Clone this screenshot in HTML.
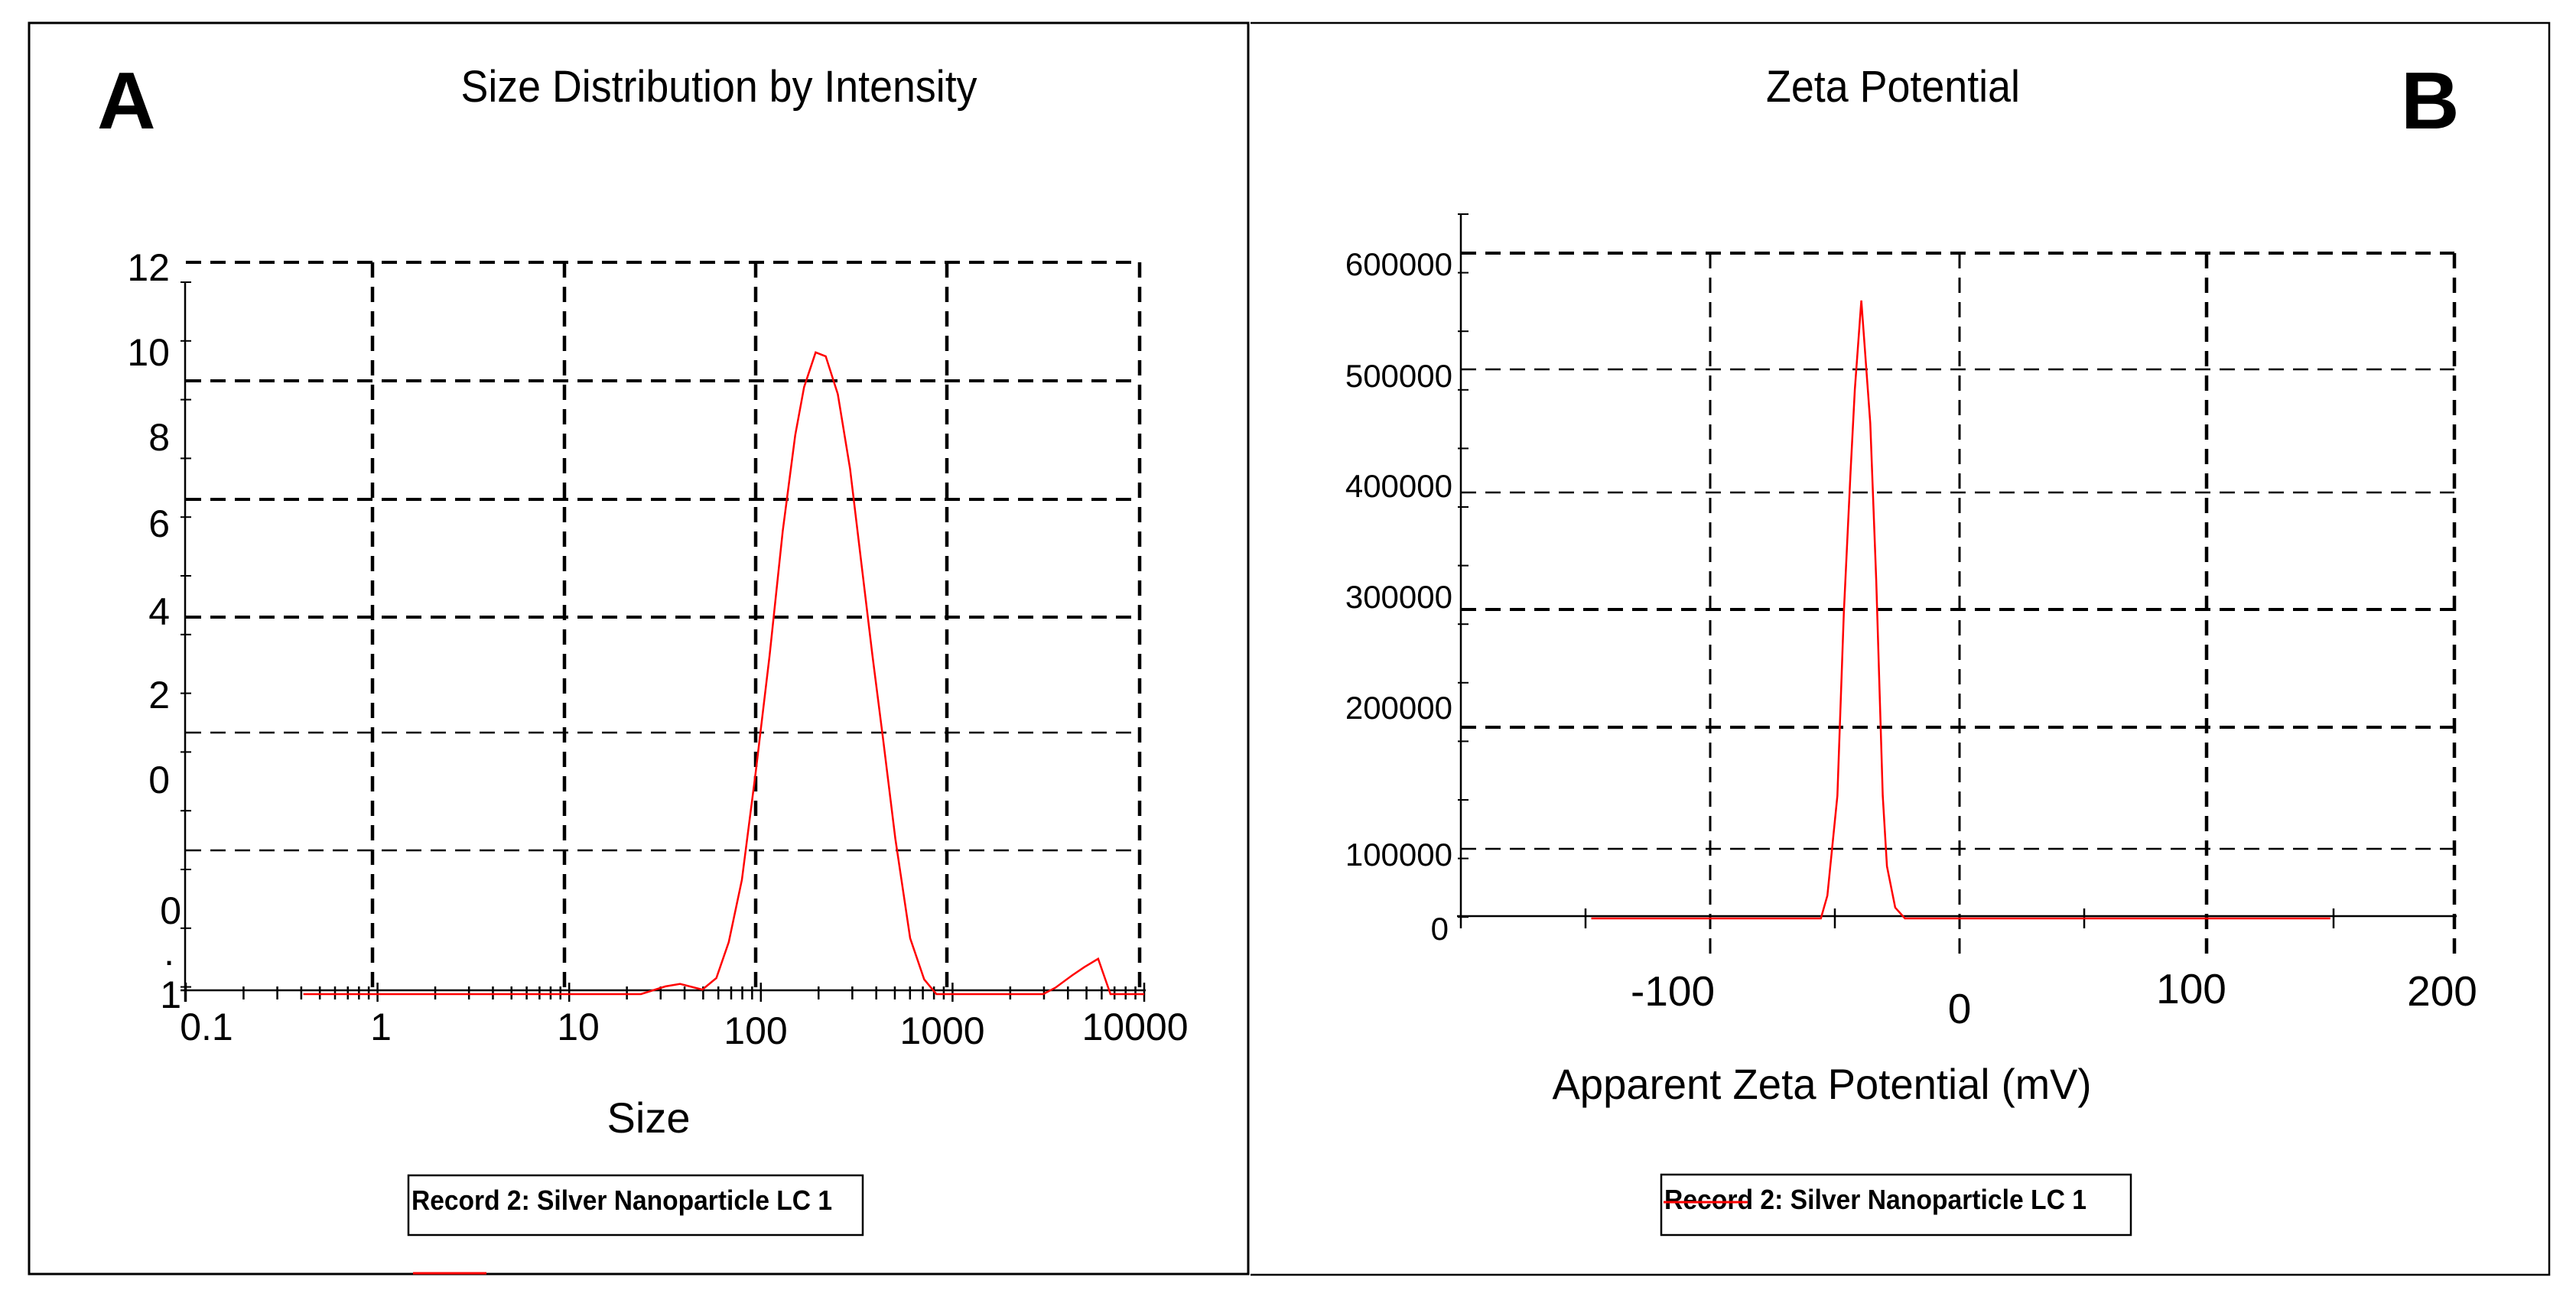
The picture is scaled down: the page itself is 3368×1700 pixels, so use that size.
<!DOCTYPE html>
<html><head><meta charset="utf-8"><style>
html,body{margin:0;padding:0;background:#fff}
svg{display:block}
text{font-family:"Liberation Sans",Arial,sans-serif;fill:#000}
</style></head><body>
<svg id="fig" width="3368" height="1700" viewBox="0 0 3368 1700" xmlns="http://www.w3.org/2000/svg">
<g id="pa">
  <rect x="38" y="30" width="1594" height="1636" fill="none" stroke="#000" stroke-width="3"/>
  <text x="127" y="168" font-size="106" font-weight="bold">A</text>
  <text x="940" y="133" font-size="58" text-anchor="middle" textLength="675" lengthAdjust="spacingAndGlyphs">Size Distribution by Intensity</text>
  <text x="848" y="1481" font-size="56" text-anchor="middle">Size</text>
  <rect x="534" y="1537" width="594" height="78" fill="none" stroke="#000" stroke-width="2.5"/>
  <text x="538" y="1582" font-size="36" font-weight="bold" textLength="550" lengthAdjust="spacingAndGlyphs">Record 2: Silver Nanoparticle LC 1</text>
  <line x1="540" y1="1665" x2="636" y2="1665" stroke="red" stroke-width="3"/>
</g>
<g id="pb">
  <polyline points="1635,30 3333,30 3333,1667 1635,1667" fill="none" stroke="#000" stroke-width="2.5"/>
  <text x="3139" y="168" font-size="106" font-weight="bold">B</text>
  <text x="2475" y="133" font-size="58" text-anchor="middle" textLength="332" lengthAdjust="spacingAndGlyphs">Zeta Potential</text>
  <text x="2382" y="1437" font-size="56" text-anchor="middle" textLength="705" lengthAdjust="spacingAndGlyphs">Apparent Zeta Potential (mV)</text>
  <rect x="2172" y="1536" width="614" height="79" fill="none" stroke="#000" stroke-width="2.5"/>
  <text x="2176" y="1581" font-size="36" font-weight="bold" textLength="552" lengthAdjust="spacingAndGlyphs">Record 2: Silver Nanoparticle LC 1</text>
  <line x1="2175" y1="1572" x2="2285" y2="1572" stroke="red" stroke-width="3"/>
</g>
</svg>
<script>
// Chart A data (size in nm, intensity %)
const sizeX = [0.41,23.7,31.8,37.9,49.5,58.6,68,79.6,94,111,130,151,168,193,218,252,292,339,382,434,503,601,711,824,2970,3440,4200,4870,5750,6670,10000];
const sizeY = [0,0,0.12,0.16,0.07,0.25,0.81,1.78,3.46,5.27,7.21,8.70,9.45,9.99,9.93,9.34,8.18,6.56,5.27,3.97,2.42,0.87,0.23,0,0,0.1,0.29,0.42,0.55,0,0];
const sizeXTicks = ["0.1","1","10","100","1000","10000"];
const sizeYTickLabels = ["12","10","8","6","4","2","0","0",".","1"];
// Chart B data (mV, counts)
const zetaX = [-147.7,-55.6,-53,-49,-46.4,-43.7,-42,-39.4,-35.8,-33.4,-30.8,-29.1,-25.8,-21.9,148.7];
const zetaY = [0,0,21000,113000,281000,411000,487000,569000,456000,311000,113000,48000,10000,0,0];
const zetaXTicks = ["-100","0","100","200"];
const zetaYTicks = ["600000","500000","400000","300000","200000","100000","0"];

const NS="http://www.w3.org/2000/svg";
function mk(parent,tag,attrs,txt){const e=document.createElementNS(NS,tag);for(const k in attrs)e.setAttribute(k,attrs[k]);if(txt!==undefined)e.textContent=txt;parent.appendChild(e);return e;}

// ---------- Chart A ----------
const pa=document.getElementById('pa');
const ax=v=>243+(Math.log10(v)+1)*250.6;
const ay=v=>1300-v*84;
[[343,4],[498,4],[653,4],[807,4],[958,2.5],[1112,2.5]].forEach((g,i)=>{
  const l=mk(pa,'line',{x1:243,x2:1490,y1:g[0],y2:g[0],stroke:'#000','stroke-width':g[1],'stroke-dasharray':'20 12'});
  
  
});
[487,738,988,1238,1490].forEach(x=>{
  const l=mk(pa,'line',{x1:x,x2:x,y1:343,y2:1295,stroke:'#000','stroke-width':4.5,'stroke-dasharray':'20 12'});
  
  
});
let l=mk(pa,'line',{x1:242,x2:242,y1:369,y2:1310,stroke:'#000','stroke-width':2.5});


l=mk(pa,'line',{x1:236,x2:1498,y1:1295,y2:1295,stroke:'#000','stroke-width':2.5});


for(let y=369;y<=1300;y+=76.8){const t=mk(pa,'line',{x1:236,x2:250,y1:y,y2:y,stroke:'#000','stroke-width':2});
  
  }
for(let d=-1;d<4;d++){for(let m=1;m<10;m++){const v=m*Math.pow(10,d);const x=ax(v);
  const t=mk(pa,'line',{x1:x,x2:x,y1:m==1?1285:1290,y2:m==1?1310:1307,stroke:'#000','stroke-width':2.5});
  
  }}
const lt=mk(pa,'line',{x1:ax(10000),x2:ax(10000),y1:1285,y2:1310,stroke:'#000','stroke-width':2.5});


const xlabA=[[270,1360],[498,1360],[756,1360],[988,1365],[1232,1365],[1484,1360]];
sizeXTicks.forEach((s,i)=>{const t=mk(pa,'text',{x:xlabA[i][0],y:xlabA[i][1],'font-size':50,'text-anchor':'middle'},s);
  
  });
const ylabA=[[222,367],[222,478],[222,589],[222,702],[222,817],[222,926],[222,1037],[237,1208],[228,1262],[237,1318]];
sizeYTickLabels.forEach((s,i)=>{const t=mk(pa,'text',{x:ylabA[i][0],y:ylabA[i][1],'font-size':50,'text-anchor':'end'},s);
  
  });
const pA=mk(pa,'polyline',{points:sizeX.map((v,i)=>ax(v).toFixed(1)+','+ay(sizeY[i]).toFixed(1)).join(' '),fill:'none',stroke:'red','stroke-width':2.5});



// ---------- Chart B ----------
const pb=document.getElementById('pb');
const bx=v=>2562+v*3.26;
const by=v=>1201-v/100000*142;
[[331,4],[483,2.5],[644,2.5],[797,4],[951,4],[1110,2.5]].forEach(g=>{
  const q=mk(pb,'line',{x1:1910,x2:3209,y1:g[0],y2:g[0],stroke:'#000','stroke-width':g[1],'stroke-dasharray':'20 12'});
  
  
});
[[2236,3],[2562,3],[2885,4.5],[3209,4.5]].forEach(g=>{
  const q=mk(pb,'line',{x1:g[0],x2:g[0],y1:331,y2:1247,stroke:'#000','stroke-width':g[1],'stroke-dasharray':'20 12'});
  
  
});
l=mk(pb,'line',{x1:1910,x2:1910,y1:280,y2:1214,stroke:'#000','stroke-width':2.5});


l=mk(pb,'line',{x1:1905,x2:3212,y1:1198,y2:1198,stroke:'#000','stroke-width':2.5});


for(let y=280;y<=1200;y+=76.6){const t=mk(pb,'line',{x1:1906,x2:1920,y1:y,y2:y,stroke:'#000','stroke-width':2});
  
  }
for(let v=-150;v<=150;v+=100){const t=mk(pb,'line',{x1:bx(v),x2:bx(v),y1:1188,y2:1214,stroke:'#000','stroke-width':2.5});
  
  }
const xlabB=[[2187,1315],[2562,1338],[2865,1312],[3193,1315]];
zetaXTicks.forEach((s,i)=>{const t=mk(pb,'text',{x:xlabB[i][0],y:xlabB[i][1],'font-size':55,'text-anchor':'middle'},s);
  
  });
const ylabB=[360,506,650,795,940,1132,1229];
zetaYTicks.forEach((s,i)=>{const t=mk(pb,'text',{x:i==6?1894:1899,y:ylabB[i],'font-size':42,'text-anchor':'end'},s);
  
  });
const pB=mk(pb,'polyline',{points:zetaX.map((v,i)=>bx(v).toFixed(1)+','+by(zetaY[i]).toFixed(1)).join(' '),fill:'none',stroke:'red','stroke-width':2.5});


</script>
</body></html>
